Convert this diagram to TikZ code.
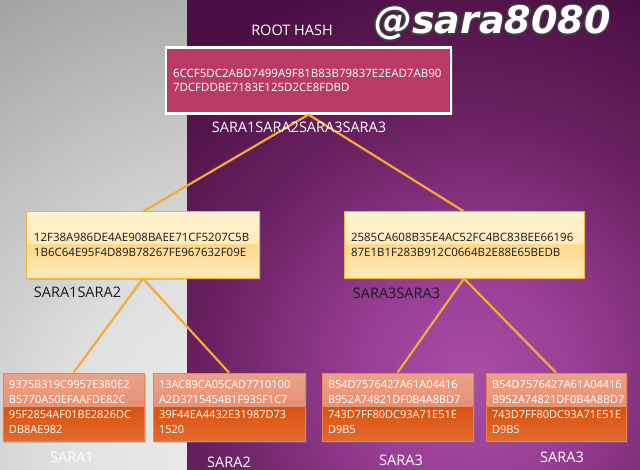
\documentclass[tikz,border=0pt]{standalone}
\usepackage{fontspec}
\setmainfont{Open Sans}
\newfontfamily\wmfont{DejaVu Sans}
\usetikzlibrary{shadows}

\definecolor{rootfill}{HTML}{B83A65}
\definecolor{conn}{HTML}{F4AA35}
\definecolor{labdark}{HTML}{1A1A1A}
\definecolor{midborder}{HTML}{F2B040}
\definecolor{midt1}{HTML}{FFF2CF}
\definecolor{midt2}{HTML}{FFE4AA}
\definecolor{midb1}{HTML}{FFD98E}
\definecolor{midb2}{HTML}{FFE9B8}
\definecolor{bt1}{HTML}{ECA288}
\definecolor{bt2}{HTML}{E2805E}
\definecolor{bb1}{HTML}{D9520F}
\definecolor{bb2}{HTML}{E46A2E}
\definecolor{bborder}{HTML}{E8854F}
\definecolor{pc0}{HTML}{A94DA5}
\definecolor{pc1}{HTML}{983E95}
\definecolor{pc2}{HTML}{6A2262}
\definecolor{pc3}{HTML}{4A0E43}
\definecolor{gc0}{HTML}{EEEEEE}
\definecolor{gc1}{HTML}{E0E0E0}
\definecolor{gc2}{HTML}{A0A0A0}

\pgfdeclareradialshading{purpbg}{\pgfpoint{0bp}{0bp}}{color(0bp)=(pc0); color(110bp)=(pc1); color(260bp)=(pc2); color(420bp)=(pc3); color(700bp)=(pc3)}
\pgfdeclareradialshading{graybg}{\pgfpoint{0bp}{0bp}}{color(0bp)=(gc0); color(200bp)=(gc1); color(540bp)=(gc2); color(700bp)=(gc2)}

\begin{document}
\begin{tikzpicture}[x=1bp,y=-1bp,
  hashfont/.style={font=\fontsize{11.5bp}{14.5bp}\selectfont},
  leaffont/.style={font=\fontsize{11bp}{14.8bp}\selectfont},
  lbl/.style={font=\fontsize{14.5bp}{16bp}\selectfont, inner sep=0},
  conline/.style={draw=conn, line width=2.2bp},
  rootbox/.style={draw=white, line width=2.2bp, fill=rootfill, text=white, hashfont, align=left,
    inner xsep=7bp, inner ysep=0, text width=#1-14bp, minimum height=66bp,
    drop shadow={opacity=0.35, shadow xshift=1.5bp, shadow yshift=-1.5bp}},
  midbox/.style={draw=midborder, line width=1bp, text=labdark, hashfont, align=left,
    inner xsep=7bp, inner ysep=0, text width=#1-14bp, minimum height=66bp,
    drop shadow={opacity=0.3, shadow xshift=1.5bp, shadow yshift=-1.5bp},
    path picture={
      \fill[top color=midt1, bottom color=midt2] (path picture bounding box.north west) rectangle (path picture bounding box.east);
      \fill[top color=midb1, bottom color=midb2] (path picture bounding box.west) rectangle (path picture bounding box.south east);
    }},
  leafbox/.style={draw=bborder, line width=0.8bp, text=white, leaffont, align=left,
    inner xsep=6bp, inner ysep=0, text width=#1-12bp, minimum height=68bp,
    drop shadow={opacity=0.35, shadow xshift=1.5bp, shadow yshift=-1.5bp},
    path picture={
      \fill[top color=bt1, bottom color=bt2] (path picture bounding box.north west) rectangle (path picture bounding box.east);
      \fill[top color=bb1, bottom color=bb2] (path picture bounding box.west) rectangle (path picture bounding box.south east);
    }},
  wm/.style={font=\wmfont\bfseries\itshape\fontsize{38bp}{40bp}\selectfont, inner sep=0, anchor=base west}
]
\useasboundingbox (0,0) rectangle (640,470);

% backgrounds
\begin{scope}
  \clip (0,0) rectangle (187,470);
  \node[inner sep=0] (graybgnode) at (260,460) {\pgfuseshading{graybg}};
\end{scope}
\begin{scope}
  \clip (187,0) rectangle (640,470);
  \node[inner sep=0] (purpbgnode) at (470,380) {\pgfuseshading{purpbg}};
\end{scope}

% watermark (dark outline, then white text)
\foreach \dx/\dy [count=\i] in {1.3/0,-1.3/0,0/1.3,0/-1.3,1/1,-1/1,1/-1,-1/-1}
  \node[wm, text=black!75, xshift=\dx bp, yshift=\dy bp] (wmo\i) at (374,34) {@sara8080};
\node[wm, text=white] (wm) at (374,34) {@sara8080};

% nodes
\node[rootbox=285bp] (root) at (308.5,80.5)
  {6CCF5DC2ABD7499A9F81B83B79837E2EAD7AB90\\7DCFDDBE7183E125D2CE8FDBD};

\node[midbox=232bp] (midL) at (143,245)
  {12F38A986DE4AE908BAEE71CF5207C5B\\1B6C64E95F4D89B78267FE967632F09E};
\node[midbox=240bp] (midR) at (464,245)
  {2585CA608B35E4AC52FC4BC83BEE66196\\87E1B1F283B912C0664B2E88E65BEDB};

\node[leafbox=141bp] (b1) at (73.5,407)
  {9375B319C9957E380E2\\B5770A50EFAAFDE82C\\95F2854AF01BE2826DC\\DB8AE982};
\node[leafbox=152bp] (b2) at (229,407)
  {13AC89CA05CAD7710100\\A2D3715454B1F935F1C7\\39F44EA4432E31987D73\\1520};
\node[leafbox=151bp] (b3) at (397.5,407)
  {B54D7576427A61A04416\\B952A74821DF0B4A8BD7\\743D7FF80DC93A71E51E\\D9B5};
\node[leafbox=140bp] (b4) at (556,407)
  {B54D7576427A61A04416\\B952A74821DF0B4A8BD7\\743D7FF80DC93A71E51E\\D9B5};

% connectors
\draw[conline] (root.south) -- (midL.north);
\draw[conline] (root.south) -- (midR.north);
\draw[conline] (midL.south) -- (b1.north);
\draw[conline] (midL.south) -- (b2.north);
\draw[conline] (midR.south) -- (b3.north);
\draw[conline] (midR.south) -- (b4.north);

% labels
\node[lbl, text=white] (rootlbl) at (292,30) {ROOT HASH};
\node[lbl, text=white] (rootsub) at (299,127) {SARA1SARA2SARA3SARA3};
\node[lbl, text=labdark] (midLlbl) at (77.5,292) {SARA1SARA2};
\node[lbl, text=labdark] (midRlbl) at (396.5,293) {SARA3SARA3};
\node[lbl, text=white] (b1lbl) at (72,457) {SARA1};
\node[lbl, text=white] (b2lbl) at (229,462) {SARA2};
\node[lbl, text=white] (b3lbl) at (401,460) {SARA3};
\node[lbl, text=white] (b4lbl) at (562,457) {SARA3};
\end{tikzpicture}
\end{document}
